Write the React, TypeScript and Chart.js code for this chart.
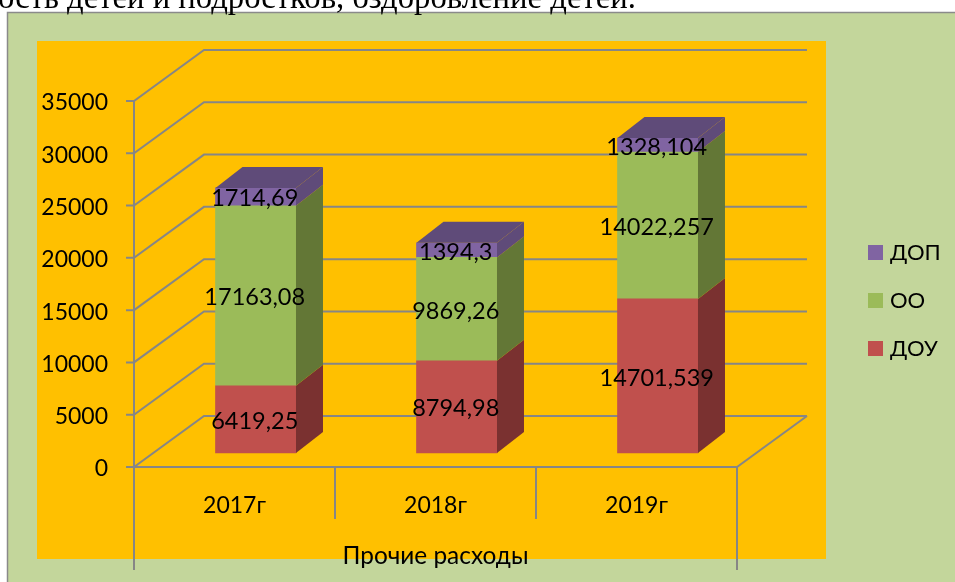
import React, { useEffect, useRef } from "react";
import { Chart, registerables } from "chart.js";

Chart.register(...registerables);

const categories = ["2017г", "2018г", "2019г"];
const douValues = [6419.25, 8794.98, 14701.539];
const ooValues = [17163.08, 9869.26, 14022.257];
const dopValues = [1714.69, 1394.3, 1328.104];
const seriesNames = ["ДОУ", "ОО", "ДОП"];
const frontColors = ["#C0504D", "#9BBB59", "#8064A2"];
const sideColors = ["#7A3130", "#637736", "#5F4B79"];
const axisTitle = "Прочие расходы";
const headingText = "ость детей и подростков, оздоровление детей.";

const FONT = "Lato, Carlito, sans-serif";
const GRAY = "#868686";
const FLOOR_DX = 70;
const FLOOR_DY = -51;
const BAR_DX = 27;
const BAR_DY = -21;

const squareIcon = (color: string) => {
  const c = document.createElement("canvas");
  c.width = 15;
  c.height = 15;
  const g = c.getContext("2d")!;
  g.fillStyle = color;
  g.fillRect(0, 0, 15, 15);
  return c;
};

const framePlugin = {
  id: "frame",
  afterLayout(chart: any) {
    const legend = chart.legend;
    const pad = legend.options.labels.padding;
    legend.left = 872 - pad;
    legend.right = 955;
    legend.top = 241.5 - pad;
    legend.bottom = 582;
  },
  beforeDraw(chart: any) {
    const { ctx } = chart;
    ctx.save();
    ctx.fillStyle = "#C3D69B";
    ctx.fillRect(7, 12, 948, 570);
    ctx.fillStyle = "#FFC000";
    ctx.fillRect(37, 41, 789, 518);
    ctx.strokeStyle = "#8A8A8A";
    ctx.lineWidth = 1.5;
    ctx.beginPath();
    ctx.moveTo(7.5, 582);
    ctx.lineTo(7.5, 12.5);
    ctx.lineTo(955, 12.5);
    ctx.stroke();
    ctx.restore();
  },
  beforeDatasetsDraw(chart: any) {
    const { ctx, chartArea, scales } = chart;
    const { left, right, bottom } = chartArea;
    const y = scales.y;
    const x = scales.x;
    const seg = (pts: number[]) => {
      ctx.beginPath();
      ctx.moveTo(pts[0], pts[1]);
      for (let i = 2; i < pts.length; i += 2) ctx.lineTo(pts[i], pts[i + 1]);
      ctx.stroke();
    };
    ctx.save();
    ctx.strokeStyle = GRAY;
    ctx.lineWidth = 2;
    y.ticks.forEach((t: any) => {
      const py = y.getPixelForValue(t.value);
      seg([left - 8, py, left, py, left + FLOOR_DX, py + FLOOR_DY, right + FLOOR_DX, py + FLOOR_DY]);
    });
    seg([left - 8, bottom, right, bottom, right + FLOOR_DX, bottom + FLOOR_DY]);
    seg([left, y.getPixelForValue(35000), left, 570]);
    seg([right, bottom, right, 570]);
    const step = (x.getPixelForValue(1) - x.getPixelForValue(0)) / 2;
    categories.slice(1).forEach((_, i) => {
      const px = x.getPixelForValue(i + 1) - step;
      seg([px, bottom - 1, px, 519]);
    });
    ctx.restore();
  },
  afterDatasetsDraw(chart: any) {
    const { ctx, data } = chart;
    ctx.save();
    const last = data.datasets.length - 1;
    data.datasets.forEach((ds: any, di: number) => {
      chart.getDatasetMeta(di).data.forEach((bar: any) => {
        const xr = bar.x + bar.width / 2;
        const xl = bar.x - bar.width / 2;
        ctx.fillStyle = ds.sideColor;
        ctx.beginPath();
        ctx.moveTo(xr, bar.base);
        ctx.lineTo(xr + BAR_DX, bar.base + BAR_DY);
        ctx.lineTo(xr + BAR_DX, bar.y + BAR_DY);
        ctx.lineTo(xr, bar.y);
        ctx.closePath();
        ctx.fill();
        if (di === last) {
          ctx.beginPath();
          ctx.moveTo(xl, bar.y);
          ctx.lineTo(xl + BAR_DX, bar.y + BAR_DY);
          ctx.lineTo(xr + BAR_DX, bar.y + BAR_DY);
          ctx.lineTo(xr, bar.y);
          ctx.closePath();
          ctx.fill();
        }
      });
    });
    ctx.fillStyle = "#000";
    ctx.font = `23.5px ${FONT}`;
    ctx.textAlign = "center";
    ctx.textBaseline = "middle";
    data.datasets.forEach((ds: any, di: number) => {
      chart.getDatasetMeta(di).data.forEach((bar: any, i: number) => {
        const label = String(ds.data[i].y).replace(".", ",");
        ctx.fillText(label, bar.x - 1, (bar.y + bar.base) / 2 + 2);
      });
    });
    ctx.restore();
  },
};

export default function App() {
  const ref = useRef<HTMLCanvasElement>(null);
  useEffect(() => {
    const toPoints = (vals: number[]) => vals.map((v, i) => ({ x: i, y: v }));
    const seriesData = [douValues, ooValues, dopValues];
    const chart = new Chart(ref.current!, {
      type: "bar",
      data: {
        labels: categories,
        datasets: seriesNames.map((name, i) => ({
          label: name,
          data: toPoints(seriesData[i]),
          backgroundColor: frontColors[i],
          sideColor: sideColors[i],
          xAxisID: "xBars",
          yAxisID: "yBars",
          barThickness: 80.5,
        })) as any,
      },
      options: {
        animation: false,
        responsive: false,
        layout: { padding: { left: 0, top: 101, right: 218, bottom: 0 } },
        plugins: {
          tooltip: { enabled: false },
          legend: {
            position: "chartArea",
            align: "start",
            reverse: true,
            labels: {
              color: "#000",
              font: { family: FONT, size: 22 },
              usePointStyle: true,
              boxWidth: 7,
              padding: 26,
              generateLabels: (c: any) =>
                (Chart.defaults.plugins.legend.labels as any).generateLabels(c).map((item: any) => ({
                  ...item,
                  pointStyle: squareIcon(frontColors[item.datasetIndex]),
                })),
            },
          },
        },
        scales: {
          x: {
            type: "category",
            position: "bottom",
            offset: true,
            grid: { display: false },
            border: { display: false },
            ticks: { color: "#000", font: { family: FONT, size: 23 }, padding: 17, maxRotation: 0 },
            title: {
              display: true,
              text: axisTitle,
              color: "#000",
              font: { family: FONT, size: 24.4 },
              padding: { top: 0, bottom: 11 },
            },
            afterFit: (s: any) => {
              s.height = 115;
            },
          },
          y: {
            type: "linear",
            position: "left",
            min: 0,
            max: 35000,
            grid: { display: false },
            border: { display: false },
            ticks: {
              stepSize: 5000,
              color: "#000",
              font: { family: FONT, size: 23 },
              padding: 18,
              labelOffset: 2,
              callback: (v: any) => String(v),
            },
            afterFit: (s: any) => {
              s.width = 134;
            },
          },
          xBars: {
            type: "linear",
            axis: "x",
            display: false,
            offset: false,
            stacked: true,
            min: -0.6057,
            max: 2.3943,
          },
          yBars: {
            type: "linear",
            axis: "y",
            display: false,
            stacked: true,
            min: -1336,
            max: 33588,
          },
        },
      } as any,
      plugins: [framePlugin],
    });
    return () => chart.destroy();
  }, []);
  return (
    <div style={{ position: "fixed", left: 0, top: 0, width: 955, height: 582, overflow: "hidden", background: "#fff" }}>
      <canvas ref={ref} width={955} height={582} style={{ position: "absolute", left: 0, top: 0, display: "block" }} />
      <div
        style={{
          position: "absolute",
          left: -2,
          top: -19,
          whiteSpace: "nowrap",
          fontFamily: "'Liberation Serif', serif",
          fontSize: 32.7,
          lineHeight: "32px",
          color: "#000",
        }}
      >
        {headingText}
      </div>
    </div>
  );
}
